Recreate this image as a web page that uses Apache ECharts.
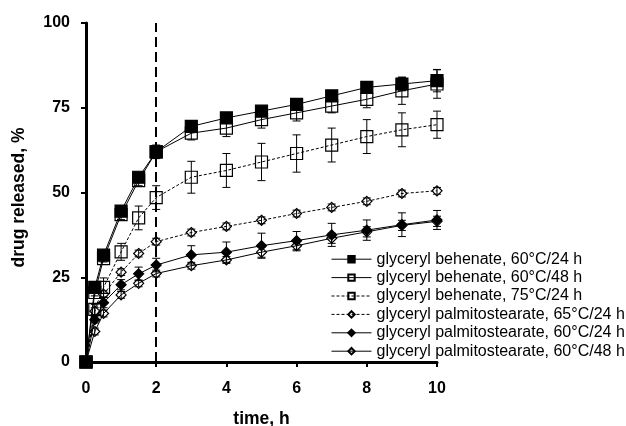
<!DOCTYPE html>
<html>
<head>
<meta charset="utf-8">
<script src="https://cdn.jsdelivr.net/npm/echarts@6/dist/echarts.min.js"></script>
<style>
  html, body { margin: 0; padding: 0; background: #fff; }
  #chart { width: 626px; height: 426px; }
</style>
</head>
<body>
<div id="chart"></div>
<script>
// Sampling times, h
var times = [0, 0.25, 0.5, 1, 1.5, 2, 3, 4, 5, 6, 7, 8, 9, 10];

// Mean drug released (%) and standard deviations
var gb60_24 = [0, 22, 31.5, 44.5, 54.5, 62, 69.5, 72, 74, 76, 78.5, 81, 82, 83];
var gb60_24sd = [0, 1, 1, 1.5, 1.5, 1.5, 1, 1, 1, 1, 1, 1.5, 2, 3.3];

var gb60_48 = [0, 20.5, 30.5, 43.5, 53.5, 62, 67.5, 69, 71.5, 73.5, 75.5, 77.5, 80, 82];
var gb60_48sd = [0, 1, 1, 1.5, 1.5, 2, 2, 2.5, 2.5, 2.4, 2, 2.5, 4, 4.2];

var gb75_24 = [0, 15.5, 22, 32.5, 42.5, 48.5, 54.5, 56.5, 59, 61.5, 64, 66.5, 68.5, 70];
var gb75_24sd = [0, 1.5, 2.8, 2.5, 3.5, 3.5, 4.7, 5, 5.5, 5.5, 5, 5, 5, 4];

var gps65_24 = [0, 15, 20, 26.5, 32, 35.5, 38.2, 40, 41.8, 43.8, 45.6, 47.4, 49.7, 50.5];
var gps65_24sd = [0, 1, 1, 1, 1, 1, 1, 1, 1, 1, 1, 1, 1, 1];

var gps60_24 = [0, 12.5, 17.5, 22.8, 26, 28.6, 31.6, 32.4, 34.3, 35.8, 37.5, 38.9, 40.5, 41.9];
var gps60_24sd = [0, 1, 1.5, 1.5, 2, 2, 2.7, 3, 3.7, 2.7, 3.4, 3, 3.5, 2.8];

var gps60_48 = [0, 9, 14.3, 19.8, 23.2, 26.1, 28.4, 30.1, 32.4, 34.3, 36.5, 38.4, 40.3, 41.5];
var gps60_48sd = [0, 1, 1, 1, 1, 1, 1, 1, 1.5, 1.5, 1.5, 1.5, 1.5, 1.5];

// Axis ticks
var yTicks = [0, 25, 50, 75, 100];
var xTicks = [0, 2, 4, 6, 8, 10];

var seriesDefs = [
  { name: 'glyceryl behenate, 60°C/24 h', y: gb60_24, sd: gb60_24sd, symbol: 'rect', size: 12, fill: '#000', dash: 'solid' },
  { name: 'glyceryl behenate, 60°C/48 h', y: gb60_48, sd: gb60_48sd, symbol: 'rect', size: 12, fill: 'rgba(0,0,0,0)', dash: 'solid' },
  { name: 'glyceryl behenate, 75°C/24 h', y: gb75_24, sd: gb75_24sd, symbol: 'rect', size: 12, fill: 'rgba(0,0,0,0)', dash: [3, 2] },
  { name: 'glyceryl palmitostearate, 65°C/24 h', y: gps65_24, sd: gps65_24sd, symbol: 'diamond', size: 10, fill: 'rgba(0,0,0,0)', dash: [3, 2] },
  { name: 'glyceryl palmitostearate, 60°C/24 h', y: gps60_24, sd: gps60_24sd, symbol: 'diamond', size: 10, fill: '#000', dash: 'solid' },
  { name: 'glyceryl palmitostearate, 60°C/48 h', y: gps60_48, sd: gps60_48sd, symbol: 'diamond', size: 10, fill: 'rgba(0,0,0,0)', dash: 'solid' }
];

var fontFamily = 'Liberation Sans, Arial, sans-serif';

var series = [];
seriesDefs.forEach(function (d, i) {
  var pts = times.map(function (t, k) { return [t, d.y[k]]; });
  var s = {
    name: d.name,
    type: 'line',
    data: pts,
    symbol: d.symbol,
    symbolSize: d.size,
    showAllSymbol: true,
    z: 3,
    lineStyle: { color: '#000', width: 1, type: d.dash },
    itemStyle: { color: d.fill, borderColor: '#000', borderWidth: 1.2 },
    emphasis: { disabled: true },
    animation: false
  };
  if (i === 0) {
    // vertical reference line at t = 2 h
    s.markLine = {
      silent: true,
      symbol: ['none', 'none'],
      label: { show: false },
      lineStyle: { color: '#000', width: 2, type: [10, 5] },
      data: [{ xAxis: 2 }],
      animation: false
    };
  }
  series.push(s);

  // error bars with caps
  var errData = times.map(function (t, k) { return [t, d.y[k] - d.sd[k], d.y[k] + d.sd[k]]; });
  series.push({
    type: 'custom',
    data: errData,
    z: 4,
    silent: true,
    animation: false,
    renderItem: function (params, api) {
      var x = api.value(0);
      var lo = api.coord([x, api.value(1)]);
      var hi = api.coord([x, api.value(2)]);
      if (Math.abs(hi[1] - lo[1]) < 1) return null;
      var cap = 4;
      var st = { stroke: '#000', lineWidth: 1 };
      return {
        type: 'group',
        children: [
          { type: 'line', shape: { x1: lo[0], y1: lo[1], x2: hi[0], y2: hi[1] }, style: st },
          { type: 'line', shape: { x1: lo[0] - cap, y1: lo[1], x2: lo[0] + cap, y2: lo[1] }, style: st },
          { type: 'line', shape: { x1: hi[0] - cap, y1: hi[1], x2: hi[0] + cap, y2: hi[1] }, style: st }
        ]
      };
    }
  });
});

var chart = echarts.init(document.getElementById('chart'), null, { renderer: 'canvas' });
chart.setOption({
  backgroundColor: '#fff',
  animation: false,
  grid: { left: 86, right: 189, top: 23, bottom: 64, containLabel: false, outerBoundsMode: 'none' },
  legend: {
    orient: 'vertical',
    left: 331,
    top: 250,
    itemWidth: 40,
    itemHeight: 8,
    itemGap: 0,
    selectedMode: false,
    padding: 0,
    lineStyle: { width: 1 },
    textStyle: { fontFamily: fontFamily, fontSize: 16, lineHeight: 18.4, color: '#000' },
    data: seriesDefs.map(function (d) { return d.name; })
  },
  xAxis: {
    type: 'value',
    min: xTicks[0],
    max: xTicks[xTicks.length - 1],
    interval: 2,
    name: 'time, h',
    nameLocation: 'middle',
    nameGap: 48,
    nameTextStyle: { fontFamily: fontFamily, fontSize: 17.5, fontWeight: 'bold', color: '#000' },
    axisLine: { show: true, onZero: false, lineStyle: { color: '#000', width: 3 } },
    axisTick: { show: true, inside: false, length: 5, lineStyle: { color: '#000', width: 2 } },
    axisLabel: { fontFamily: fontFamily, fontSize: 16, fontWeight: 'bold', color: '#000', margin: 19 },
    splitLine: { show: false }
  },
  yAxis: {
    type: 'value',
    min: yTicks[0],
    max: yTicks[yTicks.length - 1],
    interval: 25,
    name: 'drug released, %',
    nameLocation: 'middle',
    nameGap: 58,
    nameRotate: 90,
    nameTextStyle: { fontFamily: fontFamily, fontSize: 17.5, fontWeight: 'bold', color: '#000', padding: [0, 10, 0, 0] },
    axisLine: { show: true, onZero: false, lineStyle: { color: '#000', width: 3 } },
    axisTick: { show: true, inside: false, length: 5, lineStyle: { color: '#000', width: 2 } },
    axisLabel: { fontFamily: fontFamily, fontSize: 16, fontWeight: 'bold', color: '#000', margin: 16 },
    splitLine: { show: false }
  },
  series: series
});
</script>
</body>
</html>
